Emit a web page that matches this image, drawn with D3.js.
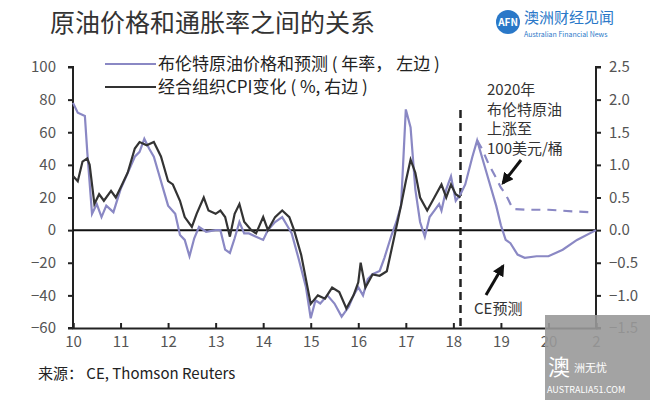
<!DOCTYPE html><html><head><meta charset="utf-8"><script src="https://cdn.jsdelivr.net/npm/d3@7"></script>
<style>body{margin:0;background:#fff}text{font-family:"Noto Sans CJK SC","Liberation Sans",sans-serif}</style></head><body><svg id="c" width="650" height="407"></svg><script>
const brentYears=[10.0,10.1,10.25,10.3,10.4,10.5,10.6,10.7,10.85,11.0,11.15,11.3,11.4,11.5,11.6,11.7,11.8,11.9,12.0,12.15,12.25,12.35,12.45,12.55,12.65,12.8,13.0,13.1,13.2,13.3,13.4,13.5,13.6,13.7,13.85,14.0,14.1,14.25,14.4,14.5,14.6,14.75,14.9,15.0,15.1,15.2,15.35,15.5,15.65,15.8,15.9,16.0,16.1,16.2,16.3,16.45,16.55,16.7,16.8,16.9,17.0,17.1,17.2,17.3,17.4,17.5,17.6,17.7,17.75,17.85,17.95,18.05,18.15,18.25,18.4,18.5,18.6,18.75,18.9,19.0,19.1,19.2,19.35,19.5,19.75,20.0,20.3,20.6,21.0];
const brentValues=[78,72,70,48,10,16,8,15,11,25,35,45,48,56,50,45,35,25,15,10,-3,-6,-16,-5,2,-1,0,0,-12,-14,-5,5,-2,-2,-4,-6,0,5,8,3,-2,-18,-35,-54,-43,-45,-40,-45,-53,-47,-40,-35,-40,-30,-27,-25,-17,-3,5,15,74,63,25,5,-4,8,12,16,12,25,33,18,22,28,45,55,45,30,15,3,-6,-8,-15,-17,-16,-16,-12,-6,0];
const altYears=[18.5,18.6,18.75,18.9,19.0,19.1,19.25,19.5,20.0,20.5,20.9];
const altValues=[55,50,40,32,26,22,13,12.5,12.5,11.5,11];
const cpiYears=[10.0,10.1,10.2,10.3,10.35,10.45,10.55,10.65,10.8,10.9,11.0,11.15,11.3,11.4,11.55,11.7,11.85,12.0,12.1,12.25,12.35,12.5,12.6,12.75,12.85,13.0,13.1,13.2,13.3,13.4,13.5,13.6,13.75,13.85,14.0,14.1,14.25,14.4,14.55,14.65,14.8,15.0,15.15,15.3,15.45,15.6,15.75,15.9,16.0,16.05,16.15,16.3,16.45,16.6,16.75,16.9,17.0,17.1,17.2,17.3,17.45,17.6,17.75,17.85,17.95,18.05,18.15];
const cpiValues=[0.83,0.75,1.05,1.1,1.0,0.4,0.55,0.45,0.6,0.5,0.65,0.88,1.25,1.35,1.3,1.35,1.13,0.75,0.7,0.45,0.2,0.05,0.25,0.5,0.3,0.25,0.3,0.2,-0.1,0.25,0.4,0.13,0,-0.05,0.2,0,0.2,0.3,0.2,0,-0.38,-1.13,-1.0,-1.05,-0.88,-0.95,-1.2,-1.0,-0.8,-0.5,-0.88,-0.68,-0.7,-0.63,-0.13,0.38,0.75,1.08,0.88,0.5,0.3,0.5,0.7,0.5,0.7,0.55,0.5];
const xTicks=[10,11,12,13,14,15,16,17,18,19,20,21];
const leftTicks=[100,80,60,40,20,0,-20,-40,-60];
const rightTicks=[2.5,2.0,1.5,1.0,0.5,0.0,-0.5,-1.0,-1.5];
const svg=d3.select("#c");
const x=d3.scaleLinear().domain([10,21]).range([73,596]);
const yL=d3.scaleLinear().domain([-60,100]).range([328,67]);
const yR=d3.scaleLinear().domain([-1.5,2.5]).range([328,67]);
const purple="#8a88c4",black="#333";
const ax=svg.append("g").attr("transform","translate(0,328)").call(d3.axisBottom(x).tickValues(xTicks).tickFormat(d=>d===21?"2":d).tickSize(-5).tickPadding(8));
const al=svg.append("g").attr("transform","translate(73,0)").call(d3.axisLeft(yL).tickValues(leftTicks).tickSize(5).tickPadding(12));
const ar=svg.append("g").attr("transform","translate(596,0)").call(d3.axisRight(yR).tickValues(rightTicks).tickFormat(d3.format(".1f")).tickSize(5).tickPadding(8));
[ax,al,ar].forEach(g=>{g.selectAll("path,line").attr("stroke","#222").attr("stroke-width",2);g.selectAll("text").attr("font-family","Liberation Serif,serif").attr("font-size",15).attr("fill","#555")});
ar.select(".domain").attr("d","M5,67H0V328H5");
al.select(".domain").attr("d","M-5,67H0V328H-5");
svg.append("line").attr("x1",73).attr("x2",596).attr("y1",yL(0)).attr("y2",yL(0)).attr("stroke","#111").attr("stroke-width",2);
svg.append("line").attr("x1",x(18.15)).attr("x2",x(18.15)).attr("y1",110).attr("y2",328).attr("stroke","#222").attr("stroke-width",2.5).attr("stroke-dasharray","8,5");
const lineB=d3.line().x(d=>x(d[0])).y(d=>yL(d[1]));
svg.append("path").datum(d3.zip(altYears,altValues)).attr("d",lineB).attr("fill","none").attr("stroke",purple).attr("stroke-width",2.2).attr("stroke-dasharray","9,7");
svg.append("path").datum(d3.zip(brentYears,brentValues)).attr("d",lineB).attr("fill","none").attr("stroke",purple).attr("stroke-width",2.2);
const lineC=d3.line().x(d=>x(d[0])).y(d=>yR(d[1]));
svg.append("path").datum(d3.zip(cpiYears,cpiValues)).attr("d",lineC).attr("fill","none").attr("stroke",black).attr("stroke-width",2.2);
svg.append("text").attr("x",50).attr("y",32).attr("font-size",25).attr("fill","#333").text("原油价格和通胀率之间的关系");
svg.append("circle").attr("cx",508).attr("cy",22).attr("r",12).attr("fill","#2a78c8");
svg.append("text").attr("x",508).attr("y",26).attr("text-anchor","middle").attr("font-size",10).attr("font-weight","bold").attr("fill","#fff").text("AFN");
svg.append("text").attr("x",524).attr("y",23).attr("font-size",15).attr("fill","#2a78c8").text("澳洲财经见闻");
svg.append("text").attr("x",524).attr("y",37).attr("font-size",7).attr("fill","#2a78c8").text("Australian Financial News");
const leg=[["布伦特原油价格和预测 ( 年率， 左边 )",purple,70],["经合组织CPI变化 ( %, 右边 )",black,93]];
leg.forEach(l=>{svg.append("line").attr("x1",105).attr("x2",156).attr("y1",l[2]-6).attr("y2",l[2]-6).attr("stroke",l[1]).attr("stroke-width",2.2);
svg.append("text").attr("x",158).attr("y",l[2]).attr("font-size",17).attr("fill","#222").text(l[0]);});
["2020年","布伦特原油","上涨至","100美元/桶"].forEach((t,i)=>svg.append("text").attr("x",487).attr("y",95+i*19.5).attr("font-size",15).attr("fill","#333").text(t));
svg.append("defs").append("marker").attr("id","ah").attr("viewBox","0 0 10 10").attr("refX",8).attr("refY",5).attr("markerWidth",4).attr("markerHeight",4).attr("orient","auto").append("path").attr("d","M0,0L10,5L0,10z").attr("fill","#111");
svg.append("line").attr("x1",521).attr("y1",160).attr("x2",503).attr("y2",183).attr("stroke","#111").attr("stroke-width",3).attr("marker-end","url(#ah)");
svg.append("line").attr("x1",486).attr("y1",295).attr("x2",503).attr("y2",266).attr("stroke","#111").attr("stroke-width",3).attr("marker-end","url(#ah)");
svg.append("text").attr("x",474).attr("y",314).attr("font-size",15).attr("fill","#333").text("CE预测");
svg.append("text").attr("x",38).attr("y",379).attr("font-size",15).attr("fill","#222").text("来源： CE, Thomson Reuters");
svg.append("rect").attr("x",545).attr("y",315).attr("width",105).attr("height",85).attr("fill","#999").attr("opacity",0.9);
svg.append("text").attr("x",548).attr("y",375).attr("font-size",22).attr("fill","#fff").text("澳");
svg.append("text").attr("x",574).attr("y",372).attr("font-size",11).attr("fill","#fff").text("洲无忧");
svg.append("text").attr("x",547).attr("y",393).attr("font-size",9).attr("fill","#fff").attr("font-family","Liberation Serif").text("AUSTRALIA51.COM");
</script></body></html>
